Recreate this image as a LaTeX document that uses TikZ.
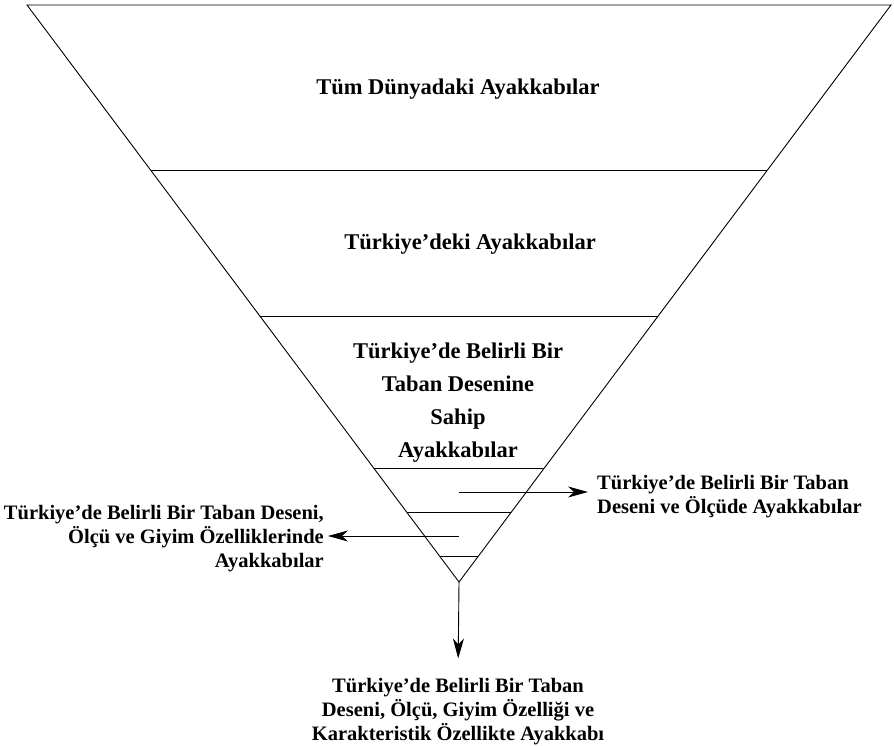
\documentclass[tikz,border=0pt]{standalone}
\usepackage{fontspec}
\setmainfont{Liberation Serif}
\usetikzlibrary{arrows.meta,calc}
\tikzset{
  edge/.style={line width=0.9pt},
  arr/.style={line width=0.9pt,-{Stealth[length=20pt,width=11pt,inset=6pt]}},
  big/.style={font=\bfseries\fontsize{22.5}{33}\selectfont,align=center,inner sep=0pt},
  small/.style={font=\bfseries\fontsize{20.5}{24}\selectfont,inner sep=0pt},
}
\begin{document}
\begin{tikzpicture}[x=1pt,y=-1pt]
\useasboundingbox (0,0) rectangle (894,746);
\coordinate (L) at (27,5);
\coordinate (R) at (891,5);
\coordinate (A) at (459,582);
\draw[edge] (L) -- (R) -- (A) -- cycle;
\foreach \t/\n in {0.286/a,0.539/b,0.804/c,0.880/d,0.955/e}{
  \coordinate (\n l) at ($(L)!\t!(A)$);
  \coordinate (\n r) at ($(R)!\t!(A)$);
  \draw[edge] (\n l) -- (\n r);
}
\node[big] (t1) at (458,89) {Tüm Dünyadaki Ayakkabılar};
\node[big] (t2) at (470,244) {Türkiye’deki Ayakkabılar};
\node[big] (t3) at (458,403) {Türkiye’de Belirli Bir\\Taban Desenine\\Sahip\\Ayakkabılar};
\node[small,align=left,anchor=west] (rt) at (597,497) {Türkiye’de Belirli Bir Taban\\Deseni ve Ölçüde Ayakkabılar};
\node[small,align=right,anchor=east] (lt) at (324,539) {Türkiye’de Belirli Bir Taban Deseni,\\Ölçü ve Giyim Özelliklerinde\\Ayakkabılar};
\node[small,align=center] (bt) at (458,712) {Türkiye’de Belirli Bir Taban\\Deseni, Ölçü, Giyim Özelliği ve\\Karakteristik Özellikte Ayakkabı};
\coordinate (rs) at (459,492);
\coordinate (ls) at (459,536);
\draw[arr,shorten >=9pt] (rs) -- (rt.west |- rs);
\draw[arr,shorten >=4pt] (ls) -- (lt.east |- ls);
\draw[arr,shorten >=20pt] (A) -- (bt.north);
\end{tikzpicture}
\end{document}
